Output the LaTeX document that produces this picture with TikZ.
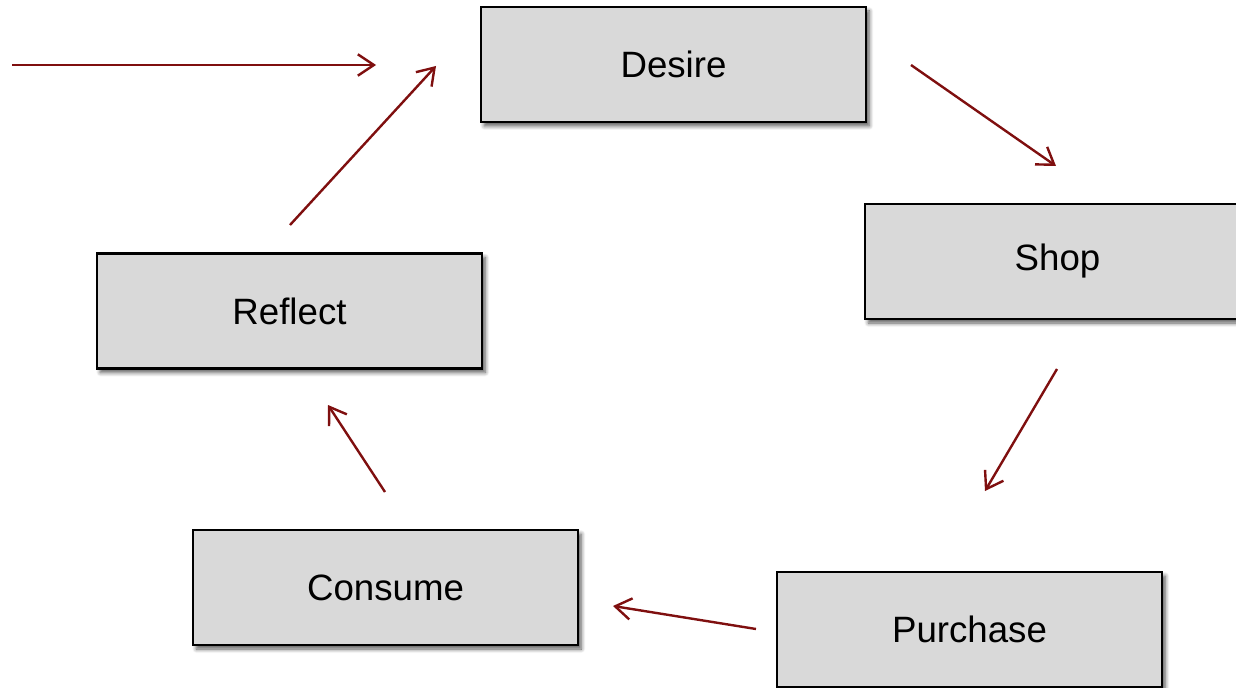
\documentclass[tikz,border=0pt]{standalone}
\usepackage{fontspec}
\setmainfont{Liberation Sans}
\usetikzlibrary{shadows.blur,arrows.meta,calc}
\definecolor{boxfill}{HTML}{D9D9D9}
\definecolor{flow}{HTML}{7F0F0F}
\tikzset{
  stage/.style={draw=black, line width=1.9pt, fill=boxfill,
    minimum width=385*0.75pt, minimum height=115*0.75pt, inner sep=0pt,
    font=\fontsize{27.5}{33}\selectfont,
    blur shadow={shadow xshift=2.5pt, shadow yshift=-3pt,
      shadow blur radius=3pt, shadow blur steps=6, shadow opacity=65}},
  flowarrow/.style={draw=flow, line width=1.8pt,
    -{Straight Barb[length=12pt,width=16pt,line width=1.8pt]}}
}
\begin{document}
\begin{tikzpicture}[x=0.75pt,y=-0.75pt]
\useasboundingbox (0,0) rectangle (1236,688);
\clip (0,0) rectangle (1236,688);
% the five stages of the cycle
\node[stage] (desire)   at (673.5,64.5)  {Desire};
\node[stage] (shop)     at (1057.5,261.5) {Shop};
\node[stage] (purchase) at (969.5,629.5) {Purchase};
\node[stage] (consume)  at (385.5,587.5) {Consume};
\node[stage] (reflect)  at (289.5,311)   {Reflect};
% free-floating arrow ends
\coordinate (in0) at (12,65);
\coordinate (in1) at (376,65);
\coordinate (ds0) at (911,65);
\coordinate (ds1) at (1056,166);
\coordinate (sp0) at (1057,369);
\coordinate (sp1) at (985,491);
\coordinate (pc0) at (756,629);
\coordinate (pc1) at (613,606);
\coordinate (cr0) at (385,492);
\coordinate (cr1) at (328,405);
\coordinate (rd0) at (290,225);
\coordinate (rd1) at (436,66);
\draw[flowarrow] (in0) -- (in1);
\draw[flowarrow] (ds0) -- (ds1);
\draw[flowarrow] (sp0) -- (sp1);
\draw[flowarrow] (pc0) -- (pc1);
\draw[flowarrow] (cr0) -- (cr1);
\draw[flowarrow] (rd0) -- (rd1);
\end{tikzpicture}
\end{document}
